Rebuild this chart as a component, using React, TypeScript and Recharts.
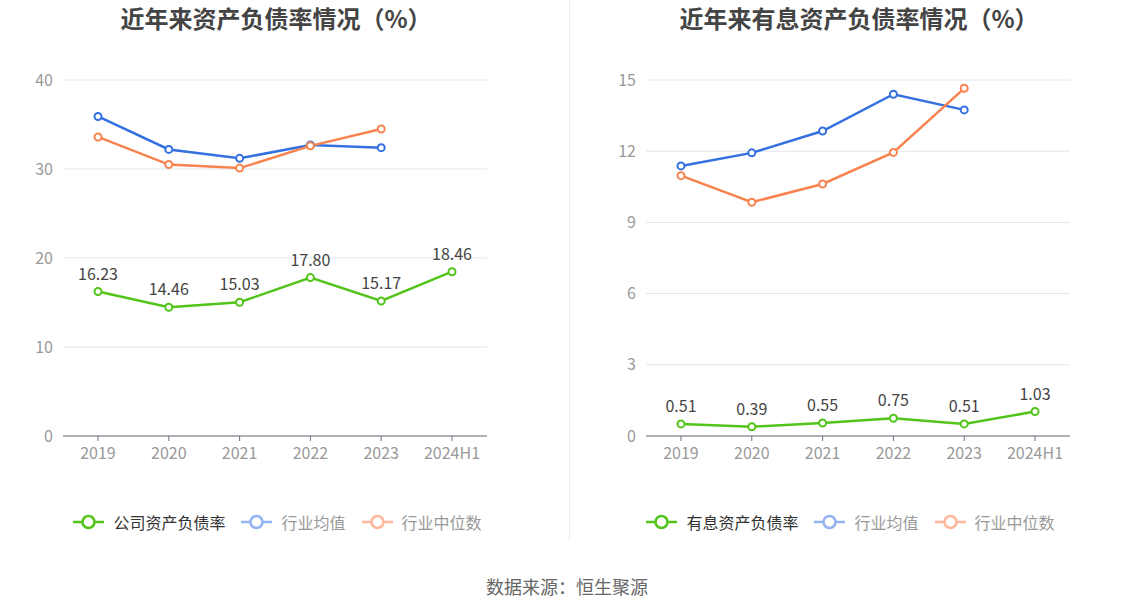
import React from 'react';
import { LineChart, Line, XAxis, YAxis, CartesianGrid, LabelList } from 'recharts';

const categories = ['2019', '2020', '2021', '2022', '2023', '2024H1'];

const leftCompany = [16.23, 14.46, 15.03, 17.8, 15.17, 18.46];
const leftAvg = [35.9, 32.2, 31.2, 32.7, 32.4, null];
const leftMedian = [33.6, 30.5, 30.1, 32.6, 34.5, null];
const leftTicks = [0, 10, 20, 30, 40];

const rightCompany = [0.51, 0.39, 0.55, 0.75, 0.51, 1.03];
const rightAvg = [11.38, 11.93, 12.85, 14.4, 13.74, null];
const rightMedian = [10.97, 9.85, 10.62, 11.95, 14.65, null];
const rightTicks = [0, 3, 6, 9, 12, 15];

const GREEN = '#52c41a';
const BLUE = '#3470e0';
const ORANGE = '#f8834f';
const FONT = '"Noto Sans CJK SC", "Noto Sans", sans-serif';

const buildData = (a: (number | null)[], b: (number | null)[], c: (number | null)[]) =>
  categories.map((name, i) => ({ name, company: a[i], avg: b[i], median: c[i] }));

const leftData = buildData(leftCompany, leftAvg, leftMedian);
const rightData = buildData(rightCompany, rightAvg, rightMedian);

const LegendIcon = ({ color }: { color: string }) => (
  <svg width={31} height={16} style={{ display: 'block' }}>
    <line x1={0} y1={8} x2={31} y2={8} stroke={color} strokeWidth={2.5} />
    <circle cx={15.5} cy={8} r={6} fill="#fff" stroke={color} strokeWidth={2.5} />
  </svg>
);

const LegendRow = ({ first }: { first: string }) => {
  const items = [
    { label: first, icon: GREEN, text: '#333' },
    { label: '行业均值', icon: '#94b3f3', text: '#999' },
    { label: '行业中位数', icon: '#ffb79b', text: '#999' },
  ];
  return (
    <div style={{ display: 'flex', alignItems: 'center', gap: 16 }}>
      {items.map((it) => (
        <div key={it.label} style={{ display: 'flex', alignItems: 'center', gap: 9 }}>
          <LegendIcon color={it.icon} />
          <span style={{ fontSize: 16, color: it.text, fontFamily: FONT, lineHeight: '16px' }}>{it.label}</span>
        </div>
      ))}
    </div>
  );
};

type PanelProps = {
  data: any[];
  ticks: number[];
  max: number;
  marginLeft: number;
  marginRight: number;
};

const Panel = ({ data, ticks, max, marginLeft, marginRight }: PanelProps) => (
  <LineChart
    width={567}
    height={470}
    data={data}
    margin={{ top: 80, right: marginRight, bottom: 4, left: marginLeft }}
    style={{ fontFamily: FONT }}
  >
    <CartesianGrid vertical={false} stroke="#e0e6f1" />
    <XAxis
      dataKey="name"
      height={30}
      padding={{ left: 35, right: 35 }}
      stroke="#6e7079"
      tickSize={5}
      tickMargin={7}
      tick={{ fill: '#999', fontSize: 16 }}
      interval={0}
    />
    <YAxis
      domain={[0, max]}
      ticks={ticks}
      width={40}
      axisLine={false}
      tickLine={false}
      tickMargin={4}
      tick={{ fill: '#999', fontSize: 16 }}
    />
    <Line
      dataKey="avg"
      stroke={BLUE}
      strokeWidth={2.5}
      dot={{ r: 3.5, strokeWidth: 2, fill: '#fff', stroke: BLUE }}
      activeDot={false}
      isAnimationActive={false}
    />
    <Line
      dataKey="median"
      stroke={ORANGE}
      strokeWidth={2.5}
      dot={{ r: 3.5, strokeWidth: 2, fill: '#fff', stroke: ORANGE }}
      activeDot={false}
      isAnimationActive={false}
    />
    <Line
      dataKey="company"
      stroke={GREEN}
      strokeWidth={2.5}
      dot={{ r: 3.5, strokeWidth: 2, fill: '#fff', stroke: GREEN }}
      activeDot={false}
      isAnimationActive={false}
    >
      <LabelList
        dataKey="company"
        position="top"
        offset={12}
        fill="#444"
        fontSize={16}
        formatter={(v: any) => Number(v).toFixed(2)}
      />
    </Line>
  </LineChart>
);

export default function App() {
  return (
    <div
      style={{
        position: 'absolute',
        left: 0,
        top: 0,
        width: 1134,
        height: 612,
        background: '#fff',
        overflow: 'hidden',
        fontFamily: FONT,
      }}
    >
      <div style={{ position: 'absolute', left: 0, top: 0 }}>
        <Panel data={leftData} ticks={leftTicks} max={40} marginLeft={23} marginRight={80} />
      </div>
      <div style={{ position: 'absolute', left: 567, top: 0 }}>
        <Panel data={rightData} ticks={rightTicks} max={15} marginLeft={39} marginRight={64} />
      </div>
      <div style={{ position: 'absolute', left: 569, top: 0, width: 1, height: 541, background: '#eeeeee' }} />
      <div
        style={{
          position: 'absolute', left: 66, width: 420, top: 0, textAlign: 'center', lineHeight: '36px',
          fontSize: 24, fontWeight: 'bold', color: '#444', whiteSpace: 'nowrap',
        }}
      >
        近年来资产负债率情况（%）
      </div>
      <div
        style={{
          position: 'absolute', left: 649, width: 420, top: 0, textAlign: 'center', lineHeight: '36px',
          fontSize: 24, fontWeight: 'bold', color: '#444', whiteSpace: 'nowrap',
        }}
      >
        近年来有息资产负债率情况（%）
      </div>
      <div style={{ position: 'absolute', left: 0, width: 555, top: 514, display: 'flex', justifyContent: 'center' }}>
        <LegendRow first="公司资产负债率" />
      </div>
      <div style={{ position: 'absolute', left: 567, width: 567, top: 514, display: 'flex', justifyContent: 'center' }}>
        <LegendRow first="有息资产负债率" />
      </div>
      <div
        style={{
          position: 'absolute', left: 0, width: 1134, top: 573, textAlign: 'center',
          fontSize: 18, color: '#666',
        }}
      >
        数据来源：恒生聚源
      </div>
    </div>
  );
}
